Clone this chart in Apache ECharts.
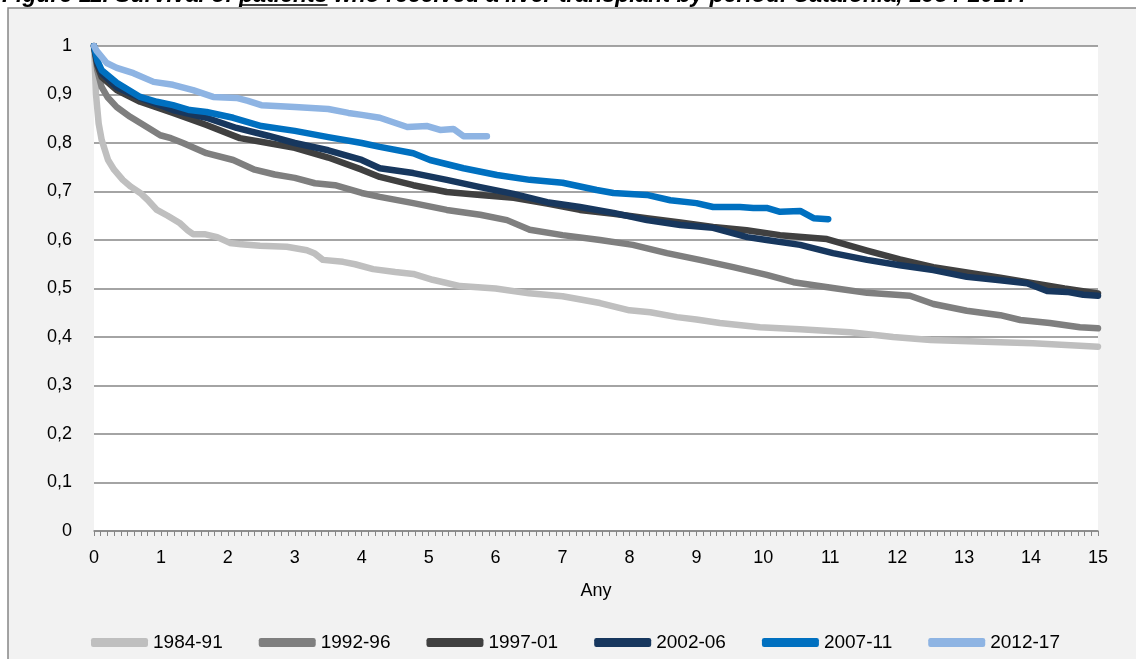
<!DOCTYPE html>
<html>
<head>
<meta charset="utf-8">
<script src="https://cdn.jsdelivr.net/npm/echarts@6/dist/echarts.min.js"></script>
<style>
  html, body { margin: 0; padding: 0; background: #fff; }
  #main { width: 1136px; height: 659px; }
</style>
</head>
<body>
<div id="main"></div>
<script>
// periods in the legend
var periods = ['1984-91', '1992-96', '1997-01', '2002-06', '2007-11', '2012-17'];

// years after transplant / survival
var t8491 = [0, 0.03, 0.07, 0.115, 0.21, 0.3, 0.43, 0.55, 0.69, 0.8, 0.94, 1.1, 1.28, 1.4, 1.48, 1.65, 1.84, 2.03, 2.2, 2.48, 2.88, 3.18, 3.3, 3.42, 3.72, 3.9, 4.17, 4.5, 4.77, 5.06, 5.47, 6.0, 6.5, 7.0, 7.56, 8.0, 8.31, 8.71, 9.0, 9.35, 9.95, 10.55, 11.3, 11.94, 12.5, 13.3, 14.03, 14.73, 15];
var s8491 = [1, 0.9, 0.84, 0.806, 0.765, 0.745, 0.724, 0.71, 0.697, 0.683, 0.662, 0.65, 0.635, 0.62, 0.612, 0.612, 0.606, 0.594, 0.591, 0.588, 0.586, 0.579, 0.572, 0.559, 0.555, 0.55, 0.54, 0.534, 0.53, 0.518, 0.505, 0.5, 0.49, 0.484, 0.47, 0.455, 0.451, 0.441, 0.436, 0.429, 0.42, 0.416, 0.41, 0.4, 0.394, 0.39, 0.387, 0.382, 0.38];

var t9296 = [0, 0.05, 0.115, 0.2, 0.34, 0.54, 0.79, 0.99, 1.15, 1.33, 1.68, 2.08, 2.4, 2.7, 3.0, 3.3, 3.6, 4.0, 4.27, 4.77, 5.27, 5.77, 6.17, 6.51, 7.0, 7.56, 8.05, 8.56, 9.05, 9.55, 10.05, 10.45, 11.04, 11.55, 12.19, 12.54, 13.04, 13.54, 13.84, 14.28, 14.73, 15];
var s9296 = [1, 0.95, 0.915, 0.895, 0.874, 0.854, 0.833, 0.816, 0.81, 0.8, 0.779, 0.765, 0.745, 0.735, 0.728, 0.717, 0.713, 0.697, 0.689, 0.676, 0.662, 0.652, 0.641, 0.621, 0.61, 0.6, 0.59, 0.573, 0.559, 0.544, 0.528, 0.513, 0.501, 0.491, 0.485, 0.468, 0.454, 0.445, 0.435, 0.429, 0.42, 0.418];

var t9701 = [0, 0.05, 0.115, 0.34, 0.69, 1.18, 1.68, 2.18, 2.6, 3.0, 3.5, 4.0, 4.27, 4.77, 5.27, 5.77, 6.27, 6.77, 7.26, 7.76, 8.26, 8.76, 9.25, 9.75, 10.25, 10.95, 11.55, 12.04, 12.54, 13.04, 13.54, 14.03, 14.5, 15];
var s9701 = [1, 0.96, 0.936, 0.909, 0.885, 0.862, 0.837, 0.81, 0.8, 0.79, 0.77, 0.745, 0.73, 0.713, 0.699, 0.693, 0.687, 0.675, 0.662, 0.654, 0.645, 0.636, 0.627, 0.62, 0.61, 0.602, 0.578, 0.56, 0.544, 0.533, 0.522, 0.511, 0.5, 0.49];

var t0206 = [0, 0.05, 0.115, 0.34, 0.69, 1.18, 1.68, 2.13, 2.6, 3.0, 3.5, 4.0, 4.27, 4.77, 5.27, 5.77, 6.27, 6.77, 7.26, 7.76, 8.26, 8.76, 9.25, 9.76, 10.05, 10.55, 11.04, 11.55, 12.04, 12.54, 13.04, 13.54, 13.94, 14.24, 14.54, 14.78, 15];
var s0206 = [1, 0.965, 0.944, 0.915, 0.893, 0.868, 0.852, 0.831, 0.815, 0.8, 0.785, 0.765, 0.748, 0.738, 0.724, 0.709, 0.695, 0.678, 0.668, 0.656, 0.641, 0.631, 0.625, 0.606, 0.6, 0.59, 0.573, 0.559, 0.548, 0.538, 0.524, 0.517, 0.511, 0.495, 0.493, 0.487, 0.485];

var t0711 = [0, 0.05, 0.115, 0.34, 0.69, 0.94, 1.18, 1.43, 1.68, 2.08, 2.5, 3.0, 3.5, 4.0, 4.27, 4.77, 5.02, 5.52, 6.02, 6.51, 7.0, 7.51, 7.76, 8.26, 8.61, 9.0, 9.25, 9.65, 9.85, 10.05, 10.25, 10.55, 10.75, 10.97];
var s0711 = [1, 0.97, 0.95, 0.924, 0.895, 0.885, 0.878, 0.868, 0.864, 0.852, 0.835, 0.825, 0.812, 0.8, 0.792, 0.779, 0.765, 0.748, 0.734, 0.724, 0.718, 0.703, 0.697, 0.693, 0.682, 0.676, 0.668, 0.668, 0.666, 0.666, 0.658, 0.66, 0.645, 0.643];

var t1217 = [0, 0.04, 0.19, 0.34, 0.59, 0.89, 1.18, 1.48, 1.78, 2.13, 2.3, 2.5, 3.0, 3.5, 3.8, 4.0, 4.27, 4.68, 4.98, 5.17, 5.37, 5.52, 5.87];
var s1217 = [1, 0.99, 0.965, 0.955, 0.944, 0.926, 0.92, 0.909, 0.895, 0.893, 0.887, 0.878, 0.874, 0.87, 0.862, 0.858, 0.852, 0.833, 0.835, 0.827, 0.829, 0.814, 0.814];

var colors = ['#bfbfbf', '#7f7f7f', '#404040', '#17375e', '#0070c0', '#8eb4e3'];

var title = 'Figure 11. Survival of patients who received a liver transplant by period. Catalonia, 1984-2017.';
var titleFont = 'italic bold 23px Arial';

function pairs(t, s) {
  return t.map(function (x, i) { return [x, s[i]]; });
}

// where "patients" sits in the title, for the underline
var ctx = document.createElement('canvas').getContext('2d');
ctx.font = titleFont;
var ulStart = 2 + ctx.measureText('Figure 11. Survival of ').width;
var ulEnd = ulStart + ctx.measureText('patients').width;

var allT = [t8491, t9296, t9701, t0206, t0711, t1217];
var allS = [s8491, s9296, s9701, s0206, s0711, s1217];

var chart = echarts.init(document.getElementById('main'), null, { renderer: 'canvas' });

var option = {
  animation: false,
  backgroundColor: '#ffffff',
  textStyle: { fontFamily: 'Arial, "Liberation Sans", sans-serif' },
  graphic: [
    {
      type: 'rect', z: -100, silent: true,
      shape: { x: 8, y: 8, width: 1300, height: 800 },
      style: { fill: '#f2f2f2', stroke: '#868686', lineWidth: 1.5 }
    },
    {
      type: 'text', z: 10, silent: true,
      x: 2, y: -4.5,
      style: { text: title, font: titleFont, fill: '#000', verticalAlign: 'middle' }
    },
    {
      type: 'line', z: 10, silent: true,
      shape: { x1: ulStart, y1: 5, x2: ulEnd, y2: 5 },
      style: { stroke: '#000', lineWidth: 1.5 }
    }
  ],
  grid: {
    left: 94, right: 38, top: 46, bottom: 128,
    show: true, backgroundColor: '#ffffff', borderWidth: 0
  },
  legend: {
    left: 86, top: 628,
    itemWidth: 57, itemHeight: 9, itemGap: 36,
    icon: 'roundRect',
    textStyle: { fontSize: 19, color: '#000' },
    data: periods
  },
  xAxis: {
    type: 'value', min: 0, max: 15, interval: 1,
    name: 'Any', nameLocation: 'middle', nameGap: 51,
    nameTextStyle: { fontSize: 18, color: '#000' },
    axisLine: { show: true, lineStyle: { color: '#868686', width: 1.5 } },
    axisTick: { show: true, length: 5, lineStyle: { color: '#868686' } },
    minorTick: { show: true, splitNumber: 10, length: 5, lineStyle: { color: '#868686' } },
    axisLabel: { fontSize: 18, color: '#000', margin: 18 },
    splitLine: { show: false }
  },
  yAxis: {
    type: 'value', min: 0, max: 1, interval: 0.1,
    axisLine: { show: false },
    axisTick: { show: false },
    axisLabel: {
      fontSize: 18, color: '#000', margin: 22,
      formatter: function (v) {
        if (v === 0 || v === 1) return String(v);
        return v.toFixed(1).replace('.', ',');
      }
    },
    splitLine: { show: true, lineStyle: { color: '#868686', width: 1.5 } }
  },
  series: periods.map(function (name, i) {
    return {
      name: name,
      type: 'line',
      data: pairs(allT[i], allS[i]),
      symbol: 'none',
      color: colors[i],
      lineStyle: { width: 6.5, color: colors[i], cap: 'round', join: 'round' }
    };
  })
};

chart.setOption(option);
</script>
</body>
</html>
